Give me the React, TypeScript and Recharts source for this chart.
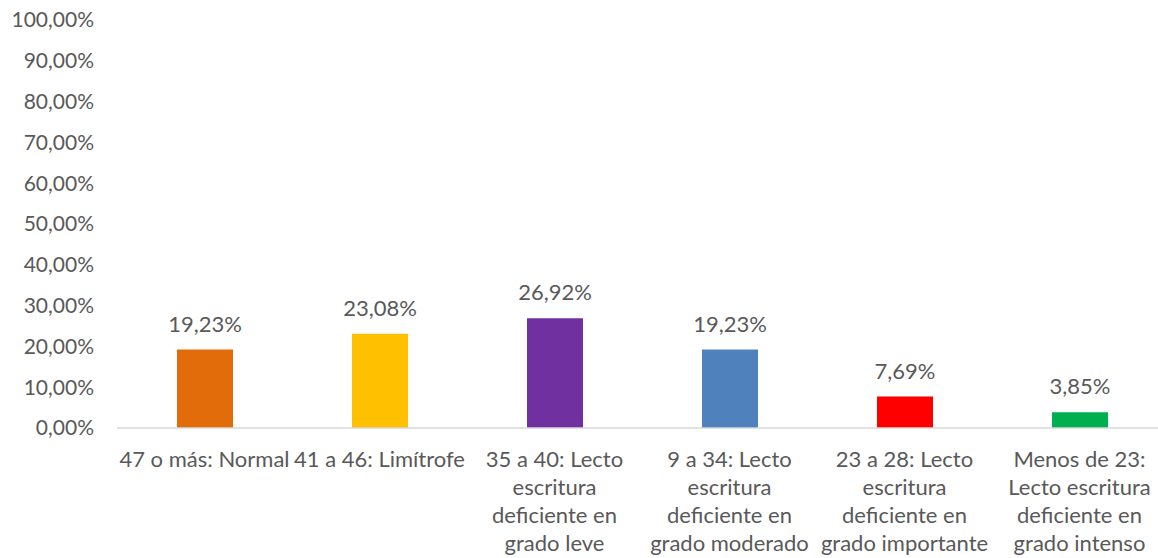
import { BarChart, Bar, XAxis, YAxis, Cell, LabelList } from "recharts";

const categories = [
  "47 o más: Normal",
  "41 a 46: Limítrofe",
  "35 a 40: Lecto escritura deficiente en grado leve",
  "9 a 34: Lecto escritura deficiente en grado moderado",
  "23 a 28: Lecto escritura deficiente en grado importante",
  "Menos de 23: Lecto escritura deficiente en grado intenso",
];

const categoryLines = [
  ["47 o más: Normal"],
  ["41 a 46: Limítrofe"],
  ["35 a 40: Lecto", "escritura", "deficiente en", "grado leve"],
  ["9 a 34: Lecto", "escritura", "deficiente en", "grado moderado"],
  ["23 a 28: Lecto", "escritura", "deficiente en", "grado importante"],
  ["Menos de 23:", "Lecto escritura", "deficiente en", "grado intenso"],
];

const values = [19.23, 23.08, 26.92, 19.23, 7.69, 3.85];

const barColors = ["#E36C0A", "#FFC000", "#7030A0", "#4F81BD", "#FF0000", "#00B050"];

const yTicks = [0, 10, 20, 30, 40, 50, 60, 70, 80, 90, 100];

const data = categories.map((c, i) => ({ name: c, value: values[i] }));

const FONT = "Lato, 'Open Sans', sans-serif";
const TEXT = "#595959";

const pct = (v: number) => v.toFixed(2).replace(".", ",") + "%";

const CategoryTick = ({ x, y, index }: any) => {
  const lines = categoryLines[index] || [];
  return (
    <text
      x={x}
      y={y}
      textAnchor="middle"
      fill={TEXT}
      fontSize={22}
      fontFamily={FONT}
    >
      {lines.map((l, i) => (
        <tspan key={i} x={x} dy={i === 0 ? 39 : 28}>
          {l}
        </tspan>
      ))}
    </text>
  );
};

export default function App() {
  return (
    <div
      style={{
        position: "absolute",
        left: 0,
        top: 0,
        width: 1158,
        height: 558,
        overflow: "hidden",
        background: "#fff",
      }}
    >
      <BarChart
        width={1167}
        height={558}
        data={data}
        margin={{ top: 20, right: 0, left: 0, bottom: 0 }}
        barSize={56}
      >
        <XAxis
          dataKey="name"
          height={130}
          interval={0}
          tickLine={false}
          tickSize={0}
          tickMargin={0}
          axisLine={{ stroke: "#D9D9D9", strokeWidth: 1.5 }}
          tick={<CategoryTick />}
        />
        <YAxis
          width={117}
          domain={[0, 100]}
          ticks={yTicks}
          interval={0}
          axisLine={false}
          tickLine={false}
          tickSize={0}
          tickMargin={23}
          tickFormatter={pct}
          tick={{ fill: TEXT, fontSize: 21, fontFamily: FONT }}
        />
        <Bar dataKey="value" isAnimationActive={false}>
          {data.map((_, i) => (
            <Cell key={i} fill={barColors[i]} />
          ))}
          <LabelList
            dataKey="value"
            position="top"
            offset={18}
            formatter={(v: any) => pct(Number(v))}
            style={{ fill: TEXT, fontSize: 22, fontFamily: FONT }}
          />
        </Bar>
      </BarChart>
    </div>
  );
}
